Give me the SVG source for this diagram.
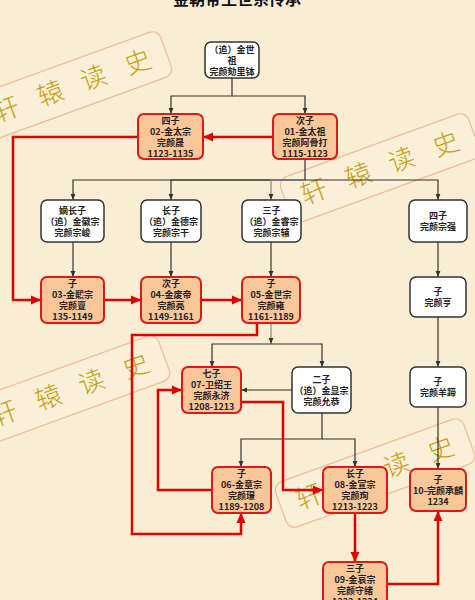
<svg xmlns="http://www.w3.org/2000/svg" width="475" height="600" viewBox="0 0 475 600">
<style>
.t{font-family:"Noto Sans CJK SC","Liberation Sans",sans-serif;font-size:9px;font-weight:bold;fill:#222;text-anchor:middle}
.w{fill:#fff;stroke:#333;stroke-width:1.5}
.r{fill:#F8C698;stroke:#E01818;stroke-width:2}
.k{fill:none;stroke:#333;stroke-width:1.2;marker-end:url(#ab)}
.g{fill:none;stroke:#8a8a8a;stroke-width:1.2;marker-end:url(#ab)}
.e{fill:none;stroke:#E00000;stroke-width:2.5;marker-end:url(#ar)}
.wm rect{fill:#FBF2DE;fill-opacity:0.5;stroke:#F2BE96;stroke-width:1.2}
.wm text{font-family:"Noto Sans CJK SC",sans-serif;font-size:26px;font-weight:300;fill:#C6A010;text-anchor:middle}
</style>
<defs>
<marker id="ab" viewBox="0 0 10 10" refX="10" refY="5" markerWidth="6" markerHeight="6" markerUnits="userSpaceOnUse" orient="auto"><path d="M0,1 L10,5 L0,9 z" fill="#333"/></marker>
<marker id="ar" viewBox="0 0 10 10" refX="10" refY="5" markerWidth="10" markerHeight="10" markerUnits="userSpaceOnUse" orient="auto"><path d="M0,0.5 L10,5 L0,9.5 z" fill="#E00000"/></marker>
</defs>
<rect x="0" y="0" width="475" height="600" fill="#F9EDD3"/>
<text x="237" y="5" style="font-family:'Noto Sans CJK SC',sans-serif;font-size:16px;font-weight:bold;fill:#111;text-anchor:middle">金朝帝王世系传承</text>
<g id="watermarks">
<g class="wm" transform="translate(72,86) rotate(-20)"><rect x="-100" y="-24" width="200" height="48" rx="9"/><text x="-70" y="9">轩</text><text x="-23" y="9">辕</text><text x="23" y="9">读</text><text x="70" y="9">史</text></g>
<g class="wm" transform="translate(380,168) rotate(-20)"><rect x="-100" y="-24" width="200" height="48" rx="9"/><text x="-70" y="9">轩</text><text x="-23" y="9">辕</text><text x="23" y="9">读</text><text x="70" y="9">史</text></g>
<g class="wm" transform="translate(70,390) rotate(-20)"><rect x="-100" y="-24" width="200" height="48" rx="9"/><text x="-70" y="9">轩</text><text x="-23" y="9">辕</text><text x="23" y="9">读</text><text x="70" y="9">史</text></g>
<g class="wm" transform="translate(375,473) rotate(-20)"><rect x="-100" y="-24" width="200" height="48" rx="9"/><text x="-70" y="9">轩</text><text x="-23" y="9">辕</text><text x="23" y="9">读</text><text x="70" y="9">史</text></g>
</g>
<g id="connectors">
<path class="k" d="M232,78 V96 H171 V114"/>
<path class="k" d="M232,96 H305 V114"/>
<path class="k" d="M305,159 V180 H73 V200"/>
<path class="k" d="M305,180 H171 V200"/>
<path class="g" d="M305,180 H271 V200"/>
<path class="k" d="M305,180 H438 V200"/>
<path class="k" d="M73,242 V277"/>
<path class="k" d="M171,242 V277"/>
<path class="k" d="M271,242 V277"/>
<path class="k" d="M438,242 V277"/>
<path class="k" d="M438,317 V367"/>
<path class="k" d="M438,407 V469"/>
<path class="g" d="M271,323 V344"/>
<path class="k" d="M271,344 H212 V367"/>
<path class="k" d="M271,344 H322 V367"/>
<path class="k" d="M292,390 H241"/>
<path class="k" d="M322,413 V439 H241 V467"/>
<path class="k" d="M322,439 H355 V467"/>
<path class="e" d="M273,137 H203"/>
<path class="e" d="M138,137 H13 V300 H41"/>
<path class="e" d="M104,300 H141"/>
<path class="e" d="M201,300 H242"/>
<path class="e" d="M257,323 V335 H132 V534 H241 V513"/>
<path class="e" d="M212,490 H158 V390 H182"/>
<path class="e" d="M241,402 H283 V490 H323"/>
<path class="e" d="M355,513 V562"/>
<path class="e" d="M387,584 H438 V511"/>
</g>
<g id="n-root"><rect class="w" x="205" y="42" width="54" height="36" rx="6"/><text class="t" x="232" y="52.5">（追）金世</text><text class="t" x="232" y="63.5">祖</text><text class="t" x="232" y="74.5">完颜劾里钵</text></g>
<g id="n02"><rect class="r" x="138" y="114" width="65" height="45" rx="6"/><text class="t" x="170.5" y="123.5">四子</text><text class="t" x="170.5" y="134.5">02-金太宗</text><text class="t" x="170.5" y="145.5">完颜晟</text><text class="t" x="170.5" y="156.5">1123-1135</text></g>
<g id="n01"><rect class="r" x="273" y="114" width="64" height="45" rx="6"/><text class="t" x="305" y="123.5">次子</text><text class="t" x="305" y="134.5">01-金太祖</text><text class="t" x="305" y="145.5">完颜阿骨打</text><text class="t" x="305" y="156.5">1115-1123</text></g>
<g id="n-huizong"><rect class="w" x="41" y="200" width="63" height="42" rx="6"/><text class="t" x="72.5" y="213.5">嫡长子</text><text class="t" x="72.5" y="224.5">（追）金徽宗</text><text class="t" x="72.5" y="235.5">完颜宗峻</text></g>
<g id="n-dezong"><rect class="w" x="141" y="200" width="60" height="42" rx="6"/><text class="t" x="171" y="213.5">长子</text><text class="t" x="171" y="224.5">（追）金德宗</text><text class="t" x="171" y="235.5">完颜宗干</text></g>
<g id="n-ruizong"><rect class="w" x="242" y="200" width="59" height="42" rx="6"/><text class="t" x="271.5" y="213.5">三子</text><text class="t" x="271.5" y="224.5">（追）金睿宗</text><text class="t" x="271.5" y="235.5">完颜宗辅</text></g>
<g id="n-zongqiang"><rect class="w" x="409" y="200" width="58" height="42" rx="6"/><text class="t" x="438" y="219">四子</text><text class="t" x="438" y="230">完颜宗强</text></g>
<g id="n03"><rect class="r" x="41" y="277" width="63" height="46" rx="6"/><text class="t" x="72.5" y="286.5">子</text><text class="t" x="72.5" y="297.5">03-金熙宗</text><text class="t" x="72.5" y="308.5">完颜亶</text><text class="t" x="72.5" y="319.5">135-1149</text></g>
<g id="n04"><rect class="r" x="141" y="277" width="60" height="46" rx="6"/><text class="t" x="171" y="286.5">次子</text><text class="t" x="171" y="297.5">04-金废帝</text><text class="t" x="171" y="308.5">完颜亮</text><text class="t" x="171" y="319.5">1149-1161</text></g>
<g id="n05"><rect class="r" x="242" y="277" width="58" height="46" rx="6"/><text class="t" x="271" y="286.5">子</text><text class="t" x="271" y="297.5">05-金世宗</text><text class="t" x="271" y="308.5">完颜雍</text><text class="t" x="271" y="319.5">1161-1189</text></g>
<g id="n-heng"><rect class="w" x="410" y="277" width="56" height="40" rx="6"/><text class="t" x="438" y="295">子</text><text class="t" x="438" y="306">完颜亨</text></g>
<g id="n07"><rect class="r" x="182" y="367" width="59" height="46" rx="6"/><text class="t" x="211.5" y="376.5">七子</text><text class="t" x="211.5" y="387.5">07-卫绍王</text><text class="t" x="211.5" y="398.5">完颜永济</text><text class="t" x="211.5" y="409.5">1208-1213</text></g>
<g id="n-xianzong"><rect class="w" x="292" y="367" width="59" height="46" rx="6"/><text class="t" x="321.5" y="382.5">二子</text><text class="t" x="321.5" y="393.5">（追）金显宗</text><text class="t" x="321.5" y="404.5">完颜允恭</text></g>
<g id="n-yangti"><rect class="w" x="410" y="367" width="56" height="40" rx="6"/><text class="t" x="438" y="385">子</text><text class="t" x="438" y="396">完颜羊蹄</text></g>
<g id="n06"><rect class="r" x="212" y="467" width="59" height="46" rx="6"/><text class="t" x="241.5" y="476.5">子</text><text class="t" x="241.5" y="487.5">06-金章宗</text><text class="t" x="241.5" y="498.5">完颜璟</text><text class="t" x="241.5" y="509.5">1189-1208</text></g>
<g id="n08"><rect class="r" x="323" y="467" width="64" height="46" rx="6"/><text class="t" x="355" y="476.5">长子</text><text class="t" x="355" y="487.5">08-金宣宗</text><text class="t" x="355" y="498.5">完颜珣</text><text class="t" x="355" y="509.5">1213-1223</text></g>
<g id="n10"><rect class="r" x="410" y="469" width="56" height="42" rx="6"/><text class="t" x="438" y="482.5">子</text><text class="t" x="438" y="493.5">10-完颜承麟</text><text class="t" x="438" y="504.5">1234</text></g>
<g id="n09"><rect class="r" x="323" y="562" width="64" height="46" rx="6"/><text class="t" x="355" y="571.5">三子</text><text class="t" x="355" y="582.5">09-金哀宗</text><text class="t" x="355" y="593.5">完颜守绪</text><text class="t" x="355" y="604.5">1223-1234</text></g>
</svg>
